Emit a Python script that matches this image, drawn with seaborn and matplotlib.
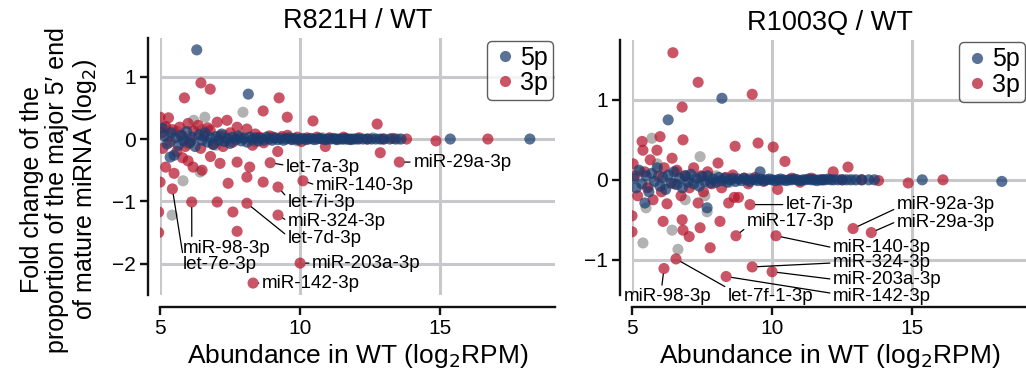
import matplotlib
matplotlib.use("Agg")
import matplotlib.pyplot as plt
from matplotlib.lines import Line2D
import pandas as pd
import seaborn as sns

sns.set_theme(style="white")
plt.rcParams["font.family"] = ["Liberation Sans", "DejaVu Sans"]
plt.rcParams["text.color"] = "black"
plt.rcParams["axes.labelcolor"] = "black"
plt.rcParams["xtick.color"] = "black"
plt.rcParams["ytick.color"] = "black"

# ---------------- data: (abundance in WT, log2 fold change) ----------------
r821h_5p = [
    (5.07, 0.18), (5.15, 0.05), (5.25, -0.08), (5.36, -0.29), (5.5, -0.26), (5.4, 0.1),
    (5.55, 0.02), (5.65, -0.1), (5.75, 0.06), (5.85, -0.03), (5.95, 0.12), (6.05, -0.06),
    (6.15, 0.03), (6.25, -0.12), (6.31, 1.43), (6.4, 0.07), (6.5, -0.02), (6.6, 0.1),
    (6.7, -0.05), (6.8, 0.02), (6.9, -0.09), (7.0, 0.04), (7.1, -0.02), (7.2, 0.08),
    (7.3, -0.04), (7.4, 0.01), (7.5, -0.07), (7.6, 0.03), (7.7, -0.01), (7.8, 0.05),
    (7.9, -0.03), (8.0, 0.01), (8.15, 0.72), (8.1, -0.05), (8.2, 0.03), (8.3, -0.01),
    (8.4, 0.02), (8.5, -0.03), (8.6, 0.01), (8.7, -0.02), (8.8, 0.03), (8.9, 0.0),
    (9.0, -0.02), (9.1, 0.02), (9.2, -0.01), (9.3, 0.01), (9.4, -0.02), (9.5, 0.0),
    (9.6, 0.02), (9.7, -0.01), (9.8, 0.01), (9.9, -0.01), (10.0, 0.0), (10.1, 0.01),
    (10.2, -0.01), (10.3, 0.0), (10.4, 0.01), (10.5, -0.01), (10.6, 0.0), (10.7, 0.01),
    (10.8, 0.0), (10.9, -0.01), (11.0, 0.0), (11.1, 0.0), (11.2, 0.01), (11.3, -0.01),
    (11.4, 0.0), (11.5, 0.0), (11.6, 0.01), (11.7, 0.0), (11.8, -0.01), (11.9, 0.0),
    (12.0, 0.0), (12.1, 0.0), (12.25, 0.0), (12.4, 0.0), (12.55, 0.0), (12.7, 0.0),
    (12.85, 0.0), (13.0, 0.0), (13.2, 0.0), (13.4, 0.0), (13.6, 0.0), (15.36, 0.0),
    (18.2, 0.0),
]
r821h_3p = [
    (5.0, 0.35), (5.05, 0.1), (5.1, -0.15), (5.2, 0.2), (5.3, 0.34), (5.35, -0.05),
    (5.45, 0.15), (5.6, -0.2), (5.7, 0.19), (5.8, 0.05), (5.9, -0.12), (6.0, 0.25),
    (6.1, -0.03), (6.2, 0.13), (6.36, 0.22), (6.45, -0.15), (6.55, 0.05), (6.7, 0.18),
    (6.79, 0.14), (6.9, -0.08), (7.04, 0.27), (7.15, 0.05), (7.25, -0.12), (7.39, 0.3),
    (7.5, 0.1), (7.6, -0.05), (7.75, 0.19), (7.85, 0.02), (8.1, 0.16), (8.3, -0.1),
    (8.4, 0.08), (8.55, 0.03), (8.7, -0.06), (8.9, 0.05), (9.05, 0.02), (9.2, -0.2),
    (9.35, 0.04), (9.55, 0.06), (9.7, 0.0), (9.9, 0.03), (10.05, -0.04), (10.25, 0.02),
    (10.46, 0.29), (10.6, 0.03), (10.9, -0.12), (11.05, 0.02), (11.3, 0.0), (11.55, 0.03),
    (11.8, 0.0), (12.1, 0.02), (12.4, 0.0), (12.75, 0.24), (12.86, -0.22), (12.95, 0.0),
    (13.3, 0.01), (13.8, 0.0), (14.85, -0.03), (16.7, 0.0),
    (6.46, 0.90), (6.79, 0.80), (5.87, 0.66), (9.25, 0.66), (8.68, 0.45), (9.54, 0.35),
    (6.18, -0.45), (6.5, -0.5), (7.14, -0.39), (7.75, -0.37), (8.2, -0.45), (7.43, -0.71),
    (8.1, -0.61), (8.68, -0.69), (7.04, -1.01), (7.6, -1.17), (7.75, -1.48), (5.0, -0.69),
    (4.95, -1.17), (4.95, -1.5), (5.2, -0.45), (5.5, -0.55), (6.0, -0.35), (6.8, -0.28),
    (5.8, -0.3),
]
r821h_other = [
    (7.96, 0.43), (6.6, 0.35), (5.82, -0.67), (6.43, -0.53), (5.43, -1.22), (5.3, 0.05),
    (5.6, 0.12), (6.0, -0.08), (6.5, 0.15), (7.0, -0.1), (7.3, 0.06), (7.9, 0.03),
    (8.4, -0.05), (9.0, 0.04), (9.9, -0.03), (10.8, 0.02), (11.6, -0.01), (12.6, 0.02),
    (13.5, 0.0), (6.2, 0.3), (5.2, 0.2),
]
r821h_named = [
    ("let-7a-3p", 8.93, -0.38), ("miR-140-3p", 10.1, -0.67), ("let-7i-3p", 9.21, -0.77),
    ("miR-324-3p", 9.21, -1.22), ("let-7d-3p", 8.1, -1.03), ("miR-98-3p", 6.13, -1.01),
    ("let-7e-3p", 5.44, -0.80), ("miR-203a-3p", 10.0, -1.99), ("miR-142-3p", 8.32, -2.31),
    ("miR-29a-3p", 13.54, -0.37),
]

r1003q_5p = [
    (5.05, 0.02), (5.15, -0.1), (5.25, 0.12), (5.35, -0.05), (5.46, -0.29), (5.5, 0.05),
    (5.6, -0.15), (5.7, 0.08), (5.8, -0.02), (5.9, 0.15), (6.0, -0.08), (6.1, 0.03),
    (6.2, -0.12), (6.3, 0.06), (6.4, -0.04), (6.5, 0.1), (6.6, -0.06), (6.7, 0.02),
    (6.8, -0.1), (6.9, 0.05), (7.0, -0.03), (7.1, 0.07), (7.2, -0.05), (7.3, 0.02),
    (7.4, -0.08), (7.5, 0.04), (7.6, -0.02), (7.68, -0.35), (7.7, 0.05), (7.8, -0.04),
    (7.9, 0.01), (8.0, -0.03), (8.1, 0.03), (8.2, -0.01), (8.3, 0.02), (8.4, -0.03),
    (8.5, 0.0), (8.6, 0.02), (8.7, -0.02), (8.8, 0.01), (8.9, -0.01), (9.0, 0.02),
    (9.1, 0.0), (9.2, -0.02), (9.3, 0.01), (9.4, 0.0), (9.5, -0.01), (9.57, 0.1),
    (9.6, 0.01), (9.7, -0.01), (9.8, 0.0), (9.9, 0.01), (10.0, 0.0), (10.1, -0.01),
    (10.2, 0.0), (10.3, 0.01), (10.4, 0.0), (10.5, -0.01), (10.6, 0.0), (10.7, 0.0),
    (10.8, 0.01), (10.9, 0.0), (11.0, -0.01), (11.1, 0.0), (11.2, 0.0), (11.3, 0.01),
    (11.4, 0.0), (11.5, 0.0), (11.6, -0.01), (11.7, 0.0), (11.8, 0.0), (11.9, 0.0),
    (12.0, 0.01), (12.1, 0.0), (12.2, 0.0), (12.35, 0.0), (12.5, 0.0), (12.65, 0.0),
    (12.8, 0.0), (13.0, 0.0), (13.2, 0.0), (13.45, 0.0), (13.65, 0.0), (15.36, 0.0),
    (18.2, -0.02), (8.21, 1.02), (6.29, 0.75),
]
r1003q_3p = [
    (5.0, -0.45), (5.0, -0.65), (5.04, 0.2), (5.1, 0.05), (5.2, -0.2), (5.36, 0.48),
    (5.39, 0.37), (5.45, 0.1), (5.55, -0.1), (5.65, 0.25), (5.75, -0.25), (5.89, 0.37),
    (5.95, 0.05), (6.0, 0.54), (6.05, -0.15), (6.15, 0.15), (6.25, -0.3), (6.43, 0.27),
    (6.5, -0.05), (6.6, 0.12), (6.75, -0.2), (6.82, 0.5), (6.9, 0.05), (7.05, -0.1),
    (7.2, 0.15), (7.36, -0.29), (7.45, 0.05), (7.55, -0.15), (7.7, 0.1), (7.85, -0.05),
    (8.07, 0.21), (8.2, -0.1), (8.35, 0.03), (8.45, -0.29), (8.6, 0.06), (8.68, 0.42),
    (8.8, -0.22), (9.0, 0.02), (9.15, -0.05), (9.5, 0.46), (9.4, 0.03), (9.7, -0.02),
    (10.04, 0.41), (10.2, -0.12), (10.46, 0.23), (10.7, 0.02), (11.0, -0.03), (11.4, 0.02),
    (11.8, 0.0), (12.18, 0.1), (12.71, 0.16), (12.5, 0.0), (13.2, 0.0), (13.8, -0.01),
    (14.86, -0.04), (16.1, 0.0),
    (6.46, 1.59), (7.36, 1.22), (9.29, 1.07), (6.79, 0.91), (6.11, -0.52), (6.79, -0.5),
    (6.82, -0.63), (7.04, -0.71), (7.79, -0.85), (7.43, -0.6), (8.14, -0.52), (8.65, -0.22),
]
r1003q_other = [
    (5.71, 0.52), (7.43, 0.29), (5.39, -0.79), (6.43, -0.63), (6.64, -0.87), (7.68, -0.4),
    (5.3, 0.1), (5.6, -0.08), (5.9, 0.2), (6.2, -0.05), (6.6, 0.1), (7.0, 0.03),
    (7.6, -0.2), (8.0, 0.05), (8.5, -0.03), (9.2, 0.02), (10.3, -0.01), (11.5, 0.01),
    (12.9, 0.0), (6.9, -0.25), (5.5, -0.35),
]
r1003q_named = [
    ("let-7i-3p", 9.21, -0.31), ("miR-17-3p", 8.71, -0.70), ("miR-92a-3p", 12.89, -0.61),
    ("miR-29a-3p", 13.54, -0.66), ("miR-140-3p", 10.14, -0.70), ("miR-324-3p", 9.29, -1.09),
    ("miR-203a-3p", 10.0, -1.15), ("miR-142-3p", 8.36, -1.21), ("let-7f-1-3p", 6.57, -0.99),
    ("miR-98-3p", 6.14, -1.11),
]

x_ticks = [5, 10, 15]
arm_colors = {"5p": "#1a3c6e", "3p": "#b5142b", "other": "#959595"}

# label text anchor (x, y in data units) and the point on the text box the leader attaches to
r821h_text = {
    "let-7a-3p": (9.5, -0.45, (0, 0.6)), "miR-140-3p": (10.57, -0.74, (0, 0.5)),
    "let-7i-3p": (9.57, -1.01, (0, 0.7)), "miR-324-3p": (9.57, -1.32, (0, 0.5)),
    "let-7d-3p": (9.57, -1.59, (0, 0.6)), "miR-98-3p": (5.82, -1.75, (0.1, 1)),
    "let-7e-3p": (5.82, -2.01, (0, 1)), "miR-203a-3p": (10.43, -1.99, (0, 0.5)),
    "miR-142-3p": (8.64, -2.31, (0, 0.5)), "miR-29a-3p": (14.04, -0.37, (0, 0.5)),
}
r1003q_text = {
    "let-7i-3p": (10.5, -0.31, (0, 0.5)), "miR-17-3p": (9.11, -0.525, (0, 0.2)),
    "miR-92a-3p": (14.46, -0.31, (0, 0.3)), "miR-29a-3p": (14.46, -0.54, (0, 0.6)),
    "miR-140-3p": (12.18, -0.85, (0, 0.5)), "miR-324-3p": (12.18, -1.04, (0, 0.5)),
    "miR-203a-3p": (12.18, -1.245, (0, 0.5)), "miR-142-3p": (12.18, -1.465, (0, 0.7)),
    "let-7f-1-3p": (8.43, -1.465, (0, 1)), "miR-98-3p": (4.71, -1.465, (0.43, 1)),
}


def build_frame(five, three, other, named):
    rows = [(x, y, "other") for x, y in other]
    rows += [(x, y, "3p") for x, y in three]
    rows += [(x, y, "5p") for x, y in five]
    rows += [(x, y, "3p") for _, x, y in named]
    return pd.DataFrame(rows, columns=["abundance", "fold_change", "arm"])


def draw_panel(ax, df, named, text_pos, ylim, yticks, title):
    ax.set_axisbelow(True)
    sns.scatterplot(data=df, x="abundance", y="fold_change", hue="arm",
                    palette=arm_colors, s=64, alpha=0.72, linewidth=0,
                    legend=False, ax=ax, zorder=3)
    ax.set_xlim(5, 19.1)
    ax.set_ylim(*ylim)
    ax.set_xticks(x_ticks)
    ax.set_yticks(yticks)
    ax.grid(True, color="#c8c8cc", linewidth=2.2)
    for name, x, y in named:
        tx, ty, rel = text_pos[name]
        ax.annotate(name, xy=(x, y), xytext=(tx, ty), textcoords="data",
                    ha="left", va="center", fontsize=13.5, zorder=5,
                    annotation_clip=False,
                    arrowprops=dict(arrowstyle="-", color="black", lw=0.9,
                                    shrinkA=0, shrinkB=4, relpos=rel))
    ax.set_title(title, fontsize=19.5, pad=7)
    ax.set_xlabel("Abundance in WT (log$_2$RPM)", fontsize=19, labelpad=3)
    ax.set_ylabel("")
    for side in ("top", "right"):
        ax.spines[side].set_visible(False)
    ax.spines["left"].set_position(("outward", 8.5))
    ax.spines["bottom"].set_position(("outward", 8.5))
    for side in ("left", "bottom"):
        ax.spines[side].set_linewidth(1.7)
        ax.spines[side].set_color("#111111")
    ax.tick_params(axis="both", which="major", labelsize=15, length=6, width=1.7,
                   color="#111111", left=True, bottom=True, pad=3)
    handles = [Line2D([], [], marker="o", ls="", markersize=8, alpha=0.72,
                      markerfacecolor=arm_colors[a], markeredgewidth=0)
               for a in ("5p", "3p")]
    leg = ax.legend(handles, ["5p", "3p"], loc="upper right", fontsize=18,
                    frameon=True, fancybox=True, borderaxespad=0.1, borderpad=0.2,
                    handletextpad=0.1, handlelength=1.0, labelspacing=0.05)
    leg.get_frame().set_edgecolor("#333333")
    leg.get_frame().set_linewidth(1.0)
    leg.set_zorder(6)


fig = plt.figure(figsize=(10.26, 3.84), dpi=100)
ax1 = fig.add_axes([0.156, 0.232, 0.385, 0.669])
ax2 = fig.add_axes([0.616, 0.232, 0.385, 0.664])

draw_panel(ax1, build_frame(r821h_5p, r821h_3p, r821h_other, r821h_named),
           r821h_named, r821h_text, (-2.5, 1.62), [-2, -1, 0, 1], "R821H / WT")
draw_panel(ax2, build_frame(r1003q_5p, r1003q_3p, r1003q_other, r1003q_named),
           r1003q_named, r1003q_text, (-1.44, 1.75), [-1, 0, 1], "R1003Q / WT")

ax1.set_ylabel("Fold change of the\nproportion of the major 5\u2032 end\nof mature miRNA (log$_2$)",
               fontsize=18, linespacing=1.08)
ax1.yaxis.set_label_coords(-0.155, 0.41)

fig.savefig("out.png", dpi=100)
